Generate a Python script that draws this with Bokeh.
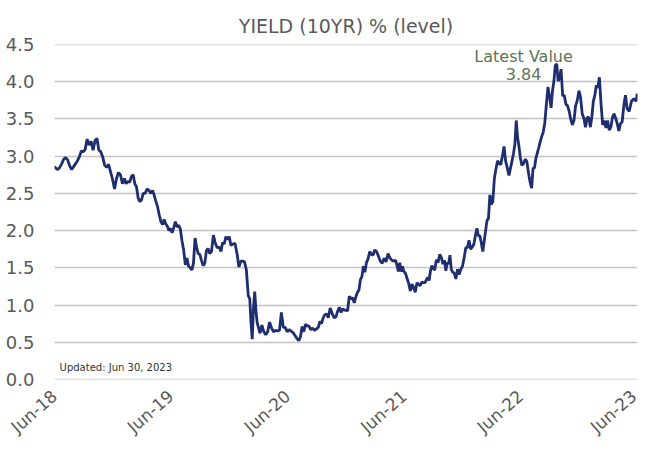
import numpy as np
import pandas as pd
from bokeh.plotting import figure
from bokeh.models import (Range1d, FixedTicker, DatetimeTickFormatter, Label,
                          ColumnDataSource, NumeralTickFormatter)
from bokeh.embed import file_html
from bokeh.resources import INLINE

# ---- data: weekly 10Y yield readings, grouped by month ----
start_date = "2018-06-29"
start_value = 2.86
latest_date = "2023-06-30"
latest_value = 3.84

monthly = {
    "2018-07": [2.84, 2.82, 2.85, 2.90, 2.96],
    "2018-08": [2.98, 2.95, 2.87, 2.82, 2.86],
    "2018-09": [2.90, 2.94, 2.99, 3.07, 3.06],
    "2018-10": [3.09, 3.23, 3.15, 3.20, 3.08],
    "2018-11": [3.21, 3.24, 3.08, 3.06, 2.99],
    "2018-12": [2.88, 2.85, 2.89, 2.79, 2.69],
    "2019-01": [2.56, 2.70, 2.78, 2.75, 2.63],
    "2019-02": [2.70, 2.63, 2.66, 2.65, 2.73],
    "2019-03": [2.75, 2.63, 2.59, 2.44, 2.39, 2.41],
    "2019-04": [2.50, 2.50, 2.56, 2.54, 2.50],
    "2019-05": [2.54, 2.47, 2.39, 2.32, 2.21, 2.12],
    "2019-06": [2.08, 2.15, 2.09, 2.06, 2.00, 2.03],
    "2019-07": [1.97, 2.04, 2.12, 2.05, 2.07, 2.02],
    "2019-08": [1.86, 1.74, 1.54, 1.63, 1.52, 1.50],
    "2019-09": [1.47, 1.56, 1.90, 1.77, 1.69, 1.68],
    "2019-10": [1.60, 1.53, 1.56, 1.73, 1.76, 1.69],
    "2019-11": [1.72, 1.94, 1.83, 1.77, 1.78],
    "2019-12": [1.72, 1.84, 1.82, 1.92, 1.88, 1.92],
    "2020-01": [1.80, 1.82, 1.83, 1.70, 1.51],
    "2020-02": [1.59, 1.59, 1.58, 1.47, 1.13],
    "2020-03": [1.08, 0.76, 0.54, 0.96, 1.18, 0.92, 0.76, 0.70],
    "2020-04": [0.62, 0.73, 0.64, 0.60, 0.64],
    "2020-05": [0.77, 0.69, 0.64, 0.66, 0.65],
    "2020-06": [0.66, 0.90, 0.70, 0.70, 0.64],
    "2020-07": [0.67, 0.65, 0.63, 0.59, 0.55],
    "2020-08": [0.52, 0.57, 0.71, 0.64, 0.74, 0.72],
    "2020-09": [0.72, 0.67, 0.69, 0.66, 0.68],
    "2020-10": [0.70, 0.78, 0.75, 0.83, 0.87, 0.88],
    "2020-11": [0.83, 0.96, 0.89, 0.83, 0.84],
    "2020-12": [0.92, 0.97, 0.90, 0.95, 0.93, 0.93],
    "2021-01": [0.92, 1.12, 1.08, 1.10, 1.03, 1.11],
    "2021-02": [1.17, 1.20, 1.34, 1.38, 1.52, 1.44],
    "2021-03": [1.57, 1.62, 1.72, 1.68, 1.67, 1.74],
    "2021-04": [1.72, 1.66, 1.59, 1.56, 1.63],
    "2021-05": [1.58, 1.69, 1.63, 1.60, 1.59],
    "2021-06": [1.60, 1.53, 1.45, 1.57, 1.45, 1.52, 1.45],
    "2021-07": [1.43, 1.36, 1.29, 1.19, 1.28, 1.24],
    "2021-08": [1.17, 1.30, 1.28, 1.26, 1.31, 1.30],
    "2021-09": [1.30, 1.34, 1.37, 1.33, 1.46, 1.53, 1.49],
    "2021-10": [1.47, 1.61, 1.57, 1.68, 1.64, 1.55],
    "2021-11": [1.60, 1.46, 1.57, 1.55, 1.67, 1.48, 1.44],
    "2021-12": [1.43, 1.35, 1.48, 1.41, 1.48, 1.52],
    "2022-01": [1.63, 1.77, 1.77, 1.87, 1.75, 1.78],
    "2022-02": [1.82, 1.93, 2.03, 1.93, 1.93, 1.83],
    "2022-03": [1.72, 1.86, 2.00, 2.14, 2.16, 2.48, 2.35],
    "2022-04": [2.39, 2.70, 2.83, 2.94, 2.90, 2.89],
    "2022-05": [3.00, 3.13, 2.93, 2.84, 2.74, 2.85],
    "2022-06": [2.94, 3.04, 3.16, 3.48, 3.25, 3.13, 2.98],
    "2022-07": [2.88, 2.90, 2.96, 2.93, 2.78, 2.65],
    "2022-08": [2.57, 2.84, 2.84, 2.97, 3.04, 3.11, 3.19],
    "2022-09": [3.26, 3.32, 3.45, 3.70, 3.93, 3.79],
    "2022-10": [3.65, 3.88, 4.01, 4.22, 4.24, 4.01, 4.05],
    "2022-11": [4.17, 3.81, 3.82, 3.70, 3.68, 3.61],
    "2022-12": [3.50, 3.42, 3.48, 3.68, 3.75, 3.88],
    "2023-01": [3.79, 3.57, 3.51, 3.39, 3.52, 3.52],
    "2023-02": [3.39, 3.53, 3.74, 3.82, 3.95, 3.92],
    "2023-03": [4.06, 3.70, 3.42, 3.48, 3.38, 3.48],
    "2023-04": [3.35, 3.39, 3.52, 3.57, 3.51, 3.44],
    "2023-05": [3.34, 3.44, 3.46, 3.68, 3.82, 3.64],
    "2023-06": [3.60, 3.74, 3.77, 3.74],
}

tick_years = [2018, 2019, 2020, 2021, 2022, 2023]
y_ticks = [0.0, 0.5, 1.0, 1.5, 2.0, 2.5, 3.0, 3.5, 4.0, 4.5]
title_text = "YIELD (10YR) % (level)"
updated_text = "Updated: Jun 30, 2023"

# ---- build series ----
dates = [pd.Timestamp(start_date)]
vals = [start_value]
for m, v in monthly.items():
    ms = pd.Timestamp(m + "-01")
    days = ms.days_in_month
    n = len(v)
    for i, val in enumerate(v):
        dates.append(ms + pd.Timedelta(days=(i + 0.5) * days / n))
        vals.append(val)
dates.append(pd.Timestamp(latest_date))
vals.append(latest_value)

src = ColumnDataSource(dict(x=dates, y=vals))

x0 = pd.Timestamp("2018-06-30")
x1 = pd.Timestamp("2023-07-01")

FONT = "DejaVu Sans"

p = figure(width=640, height=447, x_axis_type="datetime",
           output_backend="svg", toolbar_location=None,
           x_range=Range1d(x0, x1), y_range=Range1d(-0.001, 4.501),
           min_border_left=54, min_border_right=3, min_border_top=44,
           min_border_bottom=64)

p.title.text = title_text
p.title.align = "center"
p.title.text_font = FONT
p.title.text_font_size = "19px"
p.title.text_font_style = "normal"
p.title.text_color = "#595959"
p.title.standoff = 15

p.outline_line_color = None
p.background_fill_color = "white"
p.border_fill_color = "white"

p.line("x", "y", source=src, line_color="#1f2e6e", line_width=2.8)

# axes
p.yaxis.ticker = FixedTicker(ticks=y_ticks)
p.yaxis.formatter = NumeralTickFormatter(format="0.0")
p.yaxis.axis_line_color = None
p.yaxis.major_tick_line_color = None
p.yaxis.minor_tick_line_color = None
p.yaxis.major_label_text_font = FONT
p.yaxis.major_label_text_font_size = "18px"
p.yaxis.major_label_text_color = "#595959"
p.yaxis.major_label_standoff = 14

xt = [pd.Timestamp(f"{y}-06-30").value // 10**6 for y in tick_years]
p.xaxis.ticker = FixedTicker(ticks=xt)
fmt = "%b-%y"
p.xaxis.formatter = DatetimeTickFormatter(milliseconds=fmt, seconds=fmt, minsec=fmt,
                                          minutes=fmt, hourmin=fmt, hours=fmt,
                                          days=fmt, months=fmt, years=fmt)
p.xaxis.axis_line_color = None
p.xaxis.major_tick_line_color = None
p.xaxis.minor_tick_line_color = None
p.xaxis.major_label_orientation = 0.72
p.xaxis.major_label_text_font = FONT
p.xaxis.major_label_text_font_size = "17px"
p.xaxis.major_label_text_color = "#595959"
p.xaxis.major_label_standoff = 8

p.xgrid.grid_line_color = None
p.ygrid.ticker = FixedTicker(ticks=y_ticks)
p.ygrid.grid_line_color = "#c4c4c4"
p.ygrid.grid_line_width = 1.5

# annotations
lab_x = pd.Timestamp("2022-07-09")
p.add_layout(Label(x=lab_x, y=4.34, text="Latest Value", text_align="center",
                   text_baseline="middle", text_font=FONT,
                   text_font_size="16px", text_color="#5e7459"))
p.add_layout(Label(x=lab_x, y=4.10, text=f"{latest_value:.2f}", text_align="center",
                   text_baseline="middle", text_font=FONT,
                   text_font_size="16px", text_color="#5e7459"))
p.add_layout(Label(x=pd.Timestamp("2018-07-16"), y=0.16, text=updated_text,
                   text_align="left", text_baseline="middle", text_font=FONT,
                   text_font_size="10px", text_color="#333333"))

open("out.html", "w").write(file_html(p, INLINE))
